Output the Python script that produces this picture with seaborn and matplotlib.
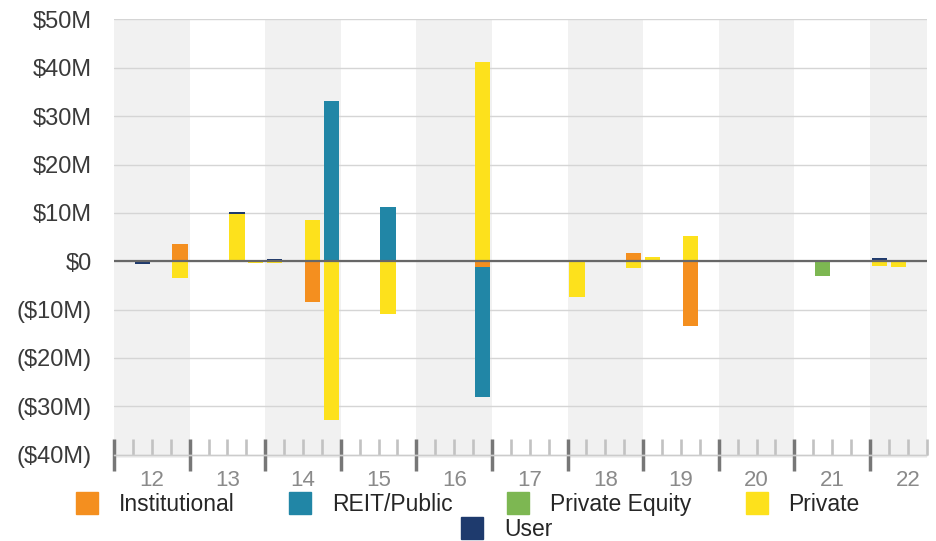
import numpy as np
import pandas as pd
import seaborn as sns
import matplotlib.pyplot as plt
from matplotlib.lines import Line2D
from matplotlib.ticker import FixedLocator

sns.set_style("white")
plt.rcParams['font.family'] = ['Liberation Sans', 'DejaVu Sans']

# quarterly net flows, $M (only quarters with activity)
quarters = ["12Q2", "12Q4", "13Q3", "13Q4", "14Q1", "14Q3", "14Q4", "15Q3",
            "16Q4", "18Q1", "18Q4", "19Q1", "19Q3", "21Q2", "22Q1", "22Q2"]
institutional  = [0, 3.5, 0, 0, 0, -8.4, 0, 0, -1.2, 0, 1.8, 0, -13.3, 0, 0, 0]
reit_public    = [0, 0, 0, 0, 0, 0, 33.1, 11.3, -26.8, 0, 0, 0, 0, 0, 0, 0]
private_equity = [0, 0, 0, 0, 0, 0, 0, 0, 0, 0, 0, 0, 0, -3.0, 0, 0]
private        = [0, -3.5, 9.8, -0.3, -0.3, 8.5, -32.8, -11.0, 41.3, -7.5, -1.5, 0.8, 5.3, 0, -1.0, -1.1]
user           = [-0.5, 0, 0.4, 0, 0.4, 0, 0, 0, 0, 0, 0, 0, 0, 0, 0.7, 0]

years = list(range(12, 23))
series_names = ["Institutional", "REIT/Public", "Private Equity", "Private", "User"]
colors = ["#F48F1F", "#2186A6", "#7DB752", "#FDE11C", "#1E3A6D"]
series_vals = [institutional, reit_public, private_equity, private, user]

pos = [int(q[:2]) + (int(q[3]) - 1) / 4 + 0.125 for q in quarters]

# cumulative stacks, positive and negative separately
vals = np.array(series_vals, dtype=float)
pos_cum = np.cumsum(np.clip(vals, 0, None), axis=0)
neg_cum = np.cumsum(np.clip(vals, None, 0), axis=0)

fig = plt.figure(figsize=(9.37, 5.41), dpi=100)
ax = fig.add_axes([114 / 937, (541 - 457.5) / 541, 812.7 / 937, 438.5 / 541])

# alternating year bands
for y in years[::2]:
    ax.axvspan(y, min(y + 1, 22.75), color="#F1F1F1", lw=0, zorder=0)

# draw stacks from the outermost layer inwards
for i in range(len(series_names) - 1, -1, -1):
    for cum in (pos_cum, neg_cum):
        df = pd.DataFrame({"x": pos, "y": cum[i]})
        sns.barplot(data=df, x="x", y="y", native_scale=True, color=colors[i],
                    saturation=1, width=0.82, errorbar=None, linewidth=0, ax=ax)

ax.axhline(0, color="#676767", lw=1.6, zorder=3)

ax.set_xlim(12, 22.75)
ax.set_ylim(-40.6, 50.1)
ax.set_xlabel("")
ax.set_ylabel("")

yt = list(range(-40, 60, 10))
ax.set_yticks(yt)
ax.set_yticklabels(["$0" if v == 0 else (f"${v}M" if v > 0 else f"(${-v}M)") for v in yt])
ax.tick_params(axis="y", length=0, pad=16, labelsize=17, labelcolor="#3a3a3a")
ax.yaxis.grid(True, color="#d5d5d5", lw=1)
ax.set_axisbelow(True)

for s in ["top", "right", "left"]:
    ax.spines[s].set_visible(False)
ax.spines["bottom"].set_position(("data", -40))
ax.spines["bottom"].set_color("#cccccc")
ax.spines["bottom"].set_linewidth(1)

ax.xaxis.set_major_locator(FixedLocator(years))
ax.xaxis.set_minor_locator(FixedLocator(np.arange(12, 22.76, 0.25)))
ax.tick_params(axis="x", which="major", bottom=True, direction="inout", length=23,
               width=2.5, color="#777777", labelbottom=False)
ax.tick_params(axis="x", which="minor", bottom=True, direction="in", length=11.5,
               width=1.9, color="#c2c2c2", labelbottom=False)
for y in years:
    ax.text(y + 0.5, -45.3, str(y), ha="center", va="center", fontsize=16,
            color="#8a8a8a", clip_on=False)

handles = [Line2D([], [], marker="s", ls="none", markersize=16, color=c) for c in colors]
fig.legend(handles[:4], series_names[:4], loc="center", ncol=4,
           bbox_to_anchor=(0.499, 0.068), frameon=False, fontsize=16.5,
           handlelength=1.0, handletextpad=0.9, columnspacing=2.35)
fig.legend(handles[4:], series_names[4:], loc="center",
           bbox_to_anchor=(0.541, 0.022), frameon=False, fontsize=16.5,
           handlelength=1.0, handletextpad=0.9)

fig.savefig("out.png", dpi=100)
